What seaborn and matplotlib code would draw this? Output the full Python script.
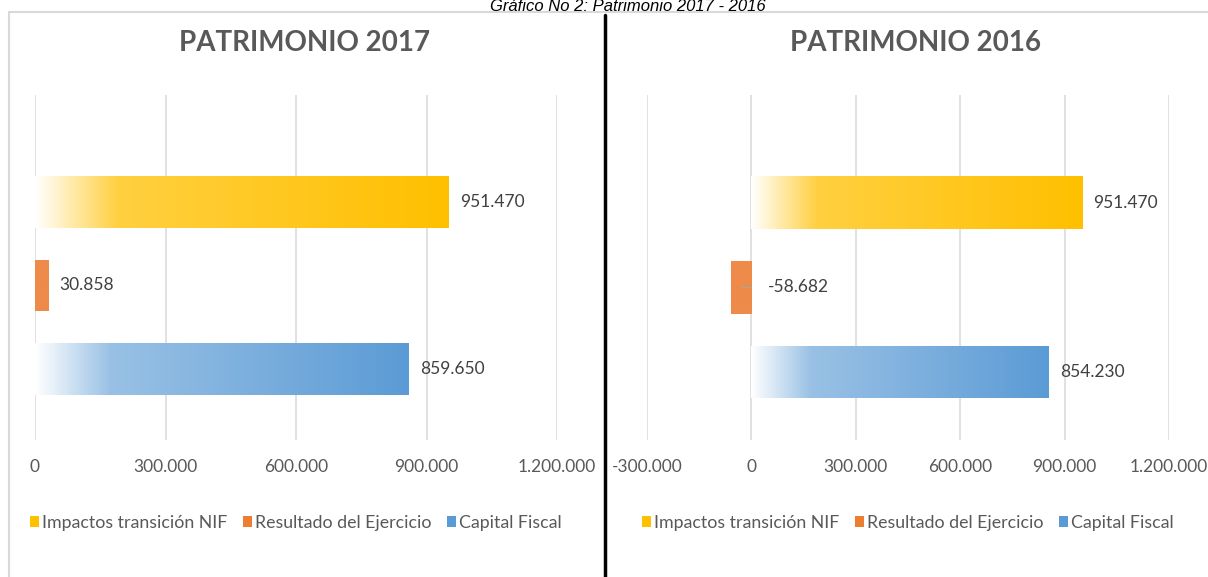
import numpy as np
import pandas as pd
import seaborn as sns
import matplotlib
matplotlib.use("Agg")
import matplotlib.pyplot as plt
from matplotlib.patches import Rectangle, Patch
from matplotlib.lines import Line2D
from matplotlib.colors import to_rgb

# ---------------- data ----------------
categories = ["Impactos transición NIF", "Resultado del Ejercicio", "Capital Fiscal"]
values_2017 = [951470, 30858, 859650]
values_2016 = [951470, -58682, 854230]
titles = ["PATRIMONIO 2017", "PATRIMONIO 2016"]
ticks_2017 = [0, 300000, 600000, 900000, 1200000]
ticks_2016 = [-300000, 0, 300000, 600000, 900000, 1200000]
colors = ["#FFC000", "#ED7D31", "#5B9BD5"]
header = "Gráfico No 2: Patrimonio 2017 - 2016"

sns.set_theme(style="white")
plt.rcParams["font.family"] = ["Lato", "DejaVu Sans"]

W, H = 1208, 577
fig = plt.figure(figsize=(W / 100, H / 100), dpi=100)


def fx(px):
    return px / W


def fy(py):
    return 1 - py / H


def fmt(v):
    s = f"{abs(int(v)):,}".replace(",", ".")
    return ("-" if v < 0 else "") + s


def gradient_image(color, light_stop):
    c = np.array(to_rgb(color))
    t = np.linspace(0, 1, 256)
    s = 0.2
    mid = 1 - (1 - c) * light_stop
    img = np.zeros((1, 256, 3))
    for i in range(3):
        a = 1 + (mid[i] - 1) * np.clip(t / s, 0, 1)
        b = mid[i] + (c[i] - mid[i]) * np.clip((t - s) / (1 - s), 0, 1)
        img[0, :, i] = np.where(t < s, a, b)
    return img


def draw_panel(ax, values, ticks, xlim, ylim, title_x, title):
    df = pd.DataFrame({"cat": categories, "val": values})
    sns.barplot(data=df, x="val", y="cat", hue="cat", palette=colors,
                orient="h", width=0.62, legend=False, ax=ax, zorder=2)
    light = [0.75, 0.9, 0.62]
    for ci, cont in enumerate(ax.containers):
        for p in cont:
            bb = p.get_bbox()
            x0, x1 = sorted([bb.x0, bb.x1])
            y0, y1 = sorted([bb.y0, bb.y1])
            p.set_facecolor("none")
            p.set_edgecolor("none")
            img = gradient_image(colors[ci], light[ci])
            if ci == 1:
                img = np.ones((1, 2, 3)) * np.array(to_rgb("#EE8A4A"))
            im = ax.imshow(img, extent=[x0, x1, y1, y0], aspect="auto",
                           interpolation="bilinear", zorder=2)
            im.set_clip_path(p)
    for i, v in enumerate(values):
        if v >= 0:
            ax.annotate(fmt(v), xy=(v, i), xytext=(8, 0), textcoords="offset points",
                        ha="left", va="center", fontsize=12.5, color="#404040")
        else:
            ax.annotate(fmt(v), xy=(0, i), xytext=(12, 0), textcoords="offset points",
                        ha="left", va="center", fontsize=12.5, color="#404040")
            ax.plot([v / 2, 0], [i, i], color="#A6A6A6", lw=0.8, zorder=3)
    ax.set_xlim(*xlim)
    ax.set_ylim(*ylim)
    ax.set_xticks(ticks)
    ax.set_xticklabels([fmt(t) for t in ticks], fontsize=12.5, color="#595959")
    ax.set_yticks([])
    ax.set_xlabel("")
    ax.set_ylabel("")
    ax.tick_params(axis="x", length=0, pad=14)
    for s in ax.spines.values():
        s.set_visible(False)
    ax.xaxis.grid(True, color="#D9D9D9", lw=1.1, zorder=0)
    ax.set_axisbelow(True)
    handles = [Patch(facecolor=c, edgecolor="none") for c in colors]
    ax.legend(handles, categories, loc="center", bbox_to_anchor=(0.5, -0.24),
              ncol=3, frameon=False, fontsize=12.8, handlelength=0.5,
              handleheight=0.5, handletextpad=0.15, columnspacing=0.9,
              labelcolor="#595959")
    fig.text(fx(title_x), fy(43), title, ha="center", va="center",
             fontsize=20, fontweight="bold", color="#595959")


axL = fig.add_axes([fx(35), fy(440), fx(557 - 35), fy(95) - fy(440)])
draw_panel(axL, values_2017, ticks_2017, (0, 1200000), (2.85, -1.28), 305, titles[0])

axR = fig.add_axes([fx(647), fy(440), fx(1169 - 647), fy(95) - fy(440)])
draw_panel(axR, values_2016, ticks_2016, (-300000, 1200000), (2.8, -1.27), 915, titles[1])

# panel border and divider
fig.add_artist(Rectangle((fx(9), fy(590)), fx(1220), fy(12) - fy(590),
                         transform=fig.transFigure, fill=False,
                         edgecolor="#D9D9D9", lw=1.5))
fig.add_artist(Line2D([fx(605), fx(605)], [fy(15), 0], transform=fig.transFigure,
                      color="black", lw=2.5))
fig.text(fx(628), fy(11), header, ha="center", va="baseline", fontsize=12,
         style="italic", family=["Liberation Sans", "DejaVu Sans"], color="black")

fig.savefig("out.png", dpi=100)
